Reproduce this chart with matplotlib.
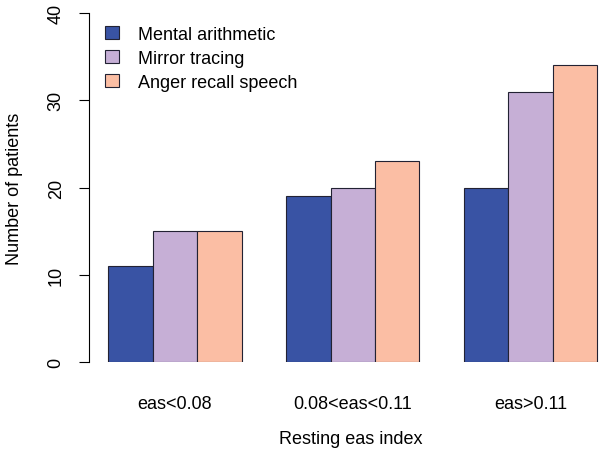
import matplotlib.pyplot as plt
from matplotlib.patches import Patch

plt.rcParams['font.family'] = ['Liberation Sans', 'DejaVu Sans']

groups = ['eas<0.08', '0.08<eas<0.11', 'eas>0.11']
series = ['Mental arithmetic', 'Mirror tracing', 'Anger recall speech']
mental = [11, 19, 20]
mirror = [15, 20, 31]
anger = [15, 23, 34]
values = [mental, mirror, anger]
colors = ['#3953A4', '#C6AFD6', '#FBBEA4']
yticks = [0, 10, 20, 30, 40]

W, H = 602, 456
fig = plt.figure(figsize=(W / 100, H / 100), dpi=100)
ax_left, ax_right, ax_top, ax_bot = 89, 602, 14, 363
ax = fig.add_axes([ax_left / W, 1 - ax_bot / H, (ax_right - ax_left) / W, (ax_bot - ax_top) / H])

for s, name in enumerate(series):
    xs = [4 * g + s for g in range(len(groups))]
    ax.bar(xs, values[s], width=1, align='edge', color=colors[s],
           edgecolor='#222233', linewidth=0.8)

unit = 44.45
ax.set_xlim((ax_left - 108.3) / unit, (ax_right - 108.3) / unit)
ax.set_ylim(0, 40)

for sp in ['top', 'right', 'bottom']:
    ax.spines[sp].set_visible(False)
ax.spines['left'].set_bounds(0, 40)

ax.set_yticks(yticks)
ax.set_yticklabels([str(t) for t in yticks], rotation=90, va='center', fontsize=13)
ax.tick_params(axis='y', length=7.5, width=0.8, pad=10)

ax.set_xticks([4 * g + 1.5 for g in range(len(groups))])
ax.set_xticklabels(groups, fontsize=13)
ax.tick_params(axis='x', length=0, pad=24)

ax.set_xlabel('Resting eas index', fontsize=13, va='center')
ax.xaxis.set_label_coords((351 - ax_left) / (ax_right - ax_left), -(440 - ax_bot) / (ax_bot - ax_top))
ax.set_ylabel('Number of patients', fontsize=13, va='center')
ax.yaxis.set_label_coords(-(ax_left - 15) / (ax_right - ax_left), 0.5)

handles = [Patch(facecolor=c, edgecolor='#222233', linewidth=0.8) for c in colors]
fig.legend(handles, series, loc='upper left', bbox_to_anchor=(105 / W, 1 - 27 / H),
           frameon=False, fontsize=13, handlelength=0.8, handleheight=0.7,
           handletextpad=1.0, labelspacing=0.38, borderpad=0, borderaxespad=0)

fig.savefig('out.png', dpi=100)
